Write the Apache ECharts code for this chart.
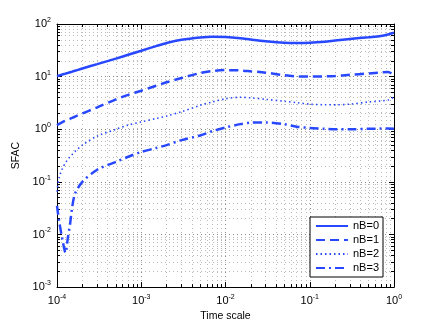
<!DOCTYPE html>
<html>
<head>
<meta charset="utf-8">
<script src="https://cdn.jsdelivr.net/npm/echarts@6/dist/echarts.min.js"></script>
<style>html,body{margin:0;padding:0;background:#fff}#c{width:436px;height:327px}</style>
</head>
<body>
<div id="c"></div>
<script>
const timeScale = [1e-4, 1.06e-4, 1.16e-4, 1.26e-4, 1.35e-4, 1.43e-4, 1.51e-4, 1.64e-4, 2e-4, 3e-4, 5e-4, 7e-4, 1e-3, 1.5e-3, 2e-3, 3e-3, 5e-3, 7e-3, 1e-2, 1.5e-2, 2e-2, 3e-2, 5e-2, 7e-2, 0.1, 0.15, 0.2, 0.3, 0.5, 0.7, 0.85, 1];
const nB0 = [10.2, 10.5, 11, 11.4, 11.8, 12.1, 12.4, 12.9, 14.3, 17.3, 22, 26, 31, 38, 43.5, 50, 55.5, 57.5, 56.5, 53.5, 50.5, 47, 44, 43.5, 44, 46, 48.5, 52, 56, 59, 63, 68];
const nB1 = [1.19, 1.26, 1.36, 1.45, 1.52, 1.58, 1.64, 1.74, 2.0, 2.6, 3.7, 4.5, 5.4, 6.7, 7.8, 9.4, 11.7, 12.8, 13.3, 13.1, 12.6, 11.9, 10.6, 10.1, 10, 10.1, 10.3, 10.8, 11.5, 12, 12.3, 10.6];
const nB2 = [0.065, 0.12, 0.18, 0.23, 0.27, 0.3, 0.33, 0.38, 0.5, 0.74, 1.0, 1.2, 1.38, 1.6, 1.78, 2.15, 2.85, 3.3, 3.8, 4.05, 3.95, 3.7, 3.4, 3.2, 3.0, 2.92, 2.91, 3.0, 3.3, 3.45, 3.6, 4.1];
const nB3 = [0.035, 0.018, 0.008, 0.0045, 0.009, 0.016, 0.032, 0.06, 0.1, 0.17, 0.24, 0.3, 0.37, 0.44, 0.5, 0.62, 0.76, 0.92, 1.08, 1.25, 1.33, 1.35, 1.25, 1.12, 1.06, 1.02, 1.0, 1.0, 1.02, 1.03, 1.03, 1.02];
const seriesNames = ['nB=0', 'nB=1', 'nB=2', 'nB=3'];
const xRange = [1e-4, 1];
const yRange = [1e-3, 1e2];

const blue = '#2848ff';
const font = 'Liberation Sans, Arial, Helvetica, sans-serif';
function expLabel(v) {
  const e = Math.round(Math.log10(v));
  return '{a|10}{b|' + e + '}';
}
const rich = {
  a: { fontSize: 11, fontFamily: font, color: '#000' },
  b: { fontSize: 7, fontFamily: font, color: '#000', padding: [0, 0, 8, 0] }
};
const gridLine = { show: true, lineStyle: { color: '#888', type: [1, 3], width: 1 } };
const minorGridLine = { show: true, lineStyle: { color: '#bbb', type: [1, 3], width: 1 } };
const axisLine = { show: true, lineStyle: { color: '#000', width: 1 } };
const tick = { show: true, inside: true, length: 5, lineStyle: { color: '#000' } };
const minorTick = { show: true, splitNumber: 9, length: 3, lineStyle: { color: '#000' } };

const data = [nB0, nB1, nB2, nB3];
const styles = [
  { type: 'solid', width: 2.5 },
  { type: [9, 5], width: 2.5 },
  { type: [1.5, 3], width: 1.6 },
  { type: [9, 4, 2, 4], width: 2.5 }
];

const chart = echarts.init(document.getElementById('c'), null, { renderer: 'canvas' });
chart.setOption({
  animation: false,
  backgroundColor: '#fff',
  grid: { left: 57, right: 42, top: 24, bottom: 36 },
  xAxis: [
    {
      type: 'log', logBase: 10, min: xRange[0], max: xRange[1],
      name: 'Time scale', nameLocation: 'middle', nameGap: 20,
      nameTextStyle: { fontSize: 10.5, fontFamily: font, color: '#000' },
      axisLine, axisTick: tick, minorTick: minorTick,
      splitLine: gridLine, minorSplitLine: minorGridLine,
      axisLabel: { formatter: expLabel, rich, margin: 6 }
    },
    {
      type: 'log', logBase: 10, min: xRange[0], max: xRange[1], position: 'top',
      axisLine, axisTick: tick, minorTick: minorTick,
      splitLine: { show: false }, axisLabel: { show: false }
    }
  ],
  yAxis: [
    {
      type: 'log', logBase: 10, min: yRange[0], max: yRange[1],
      name: 'SFAC', nameLocation: 'middle', nameGap: 28, nameRotate: 90,
      nameTextStyle: { fontSize: 10.5, fontFamily: font, color: '#000' },
      axisLine, axisTick: tick, minorTick: minorTick,
      splitLine: gridLine, minorSplitLine: minorGridLine,
      axisLabel: { formatter: expLabel, rich, margin: 6 }
    },
    {
      type: 'log', logBase: 10, min: yRange[0], max: yRange[1], position: 'right',
      axisLine, axisTick: tick, minorTick: minorTick,
      splitLine: { show: false }, axisLabel: { show: false }
    }
  ],
  legend: {
    orient: 'vertical', left: 310, top: 217,
    data: seriesNames,
    backgroundColor: '#fff', borderColor: '#000', borderWidth: 1, borderRadius: 0,
    padding: [3, 3, 3, 5], itemGap: 2, itemWidth: 32, itemHeight: 10,
    itemStyle: { opacity: 0 },
    textStyle: { fontSize: 11, lineHeight: 12, width: 27, fontFamily: font, color: '#000' }
  },
  series: seriesNames.map((name, i) => ({
    name, type: 'line', xAxisIndex: 0, yAxisIndex: 0,
    data: timeScale.map((t, k) => [t, data[i][k]]),
    symbol: 'none', smooth: 0.3,
    lineStyle: Object.assign({ color: blue }, styles[i]),
    itemStyle: { color: blue }
  }))
});
</script>
</body>
</html>
